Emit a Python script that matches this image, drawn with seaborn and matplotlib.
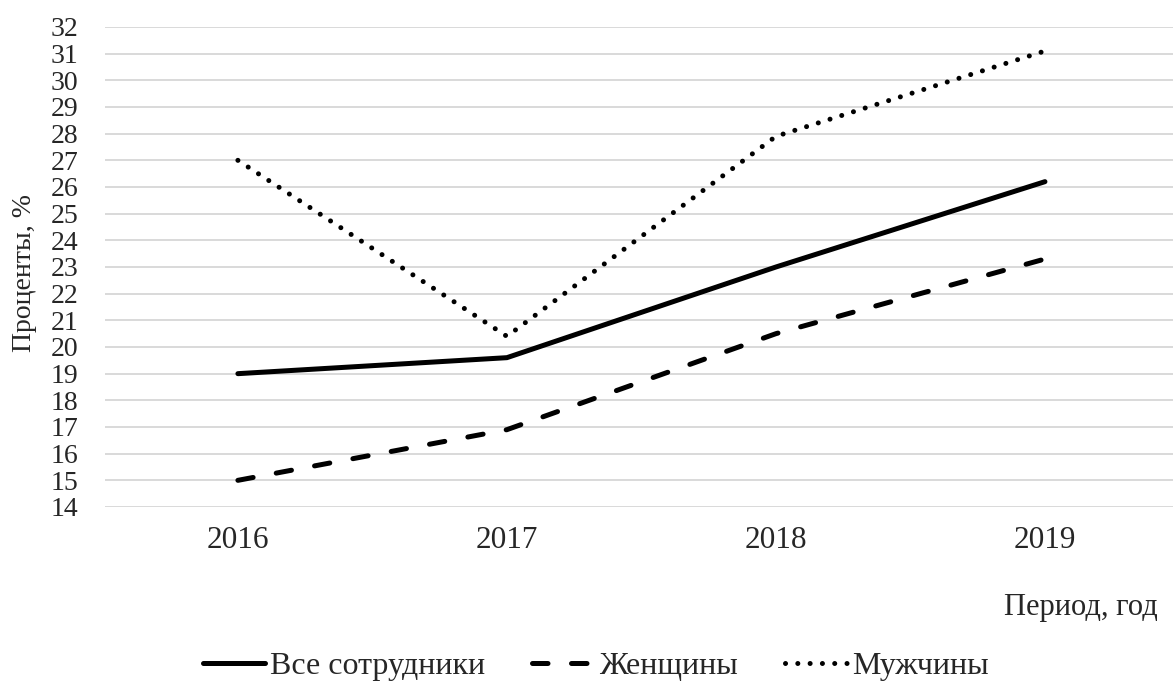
import pandas as pd
import matplotlib.pyplot as plt
import seaborn as sns

years = ["2016", "2017", "2018", "2019"]
vse = [19.0, 19.6, 23.0, 26.2]
zhen = [15.0, 16.9, 20.5, 23.3]
muzh = [27.0, 20.4, 27.9, 31.1]
names = ["Все сотрудники", "Женщины", "Мужчины"]

df = pd.DataFrame({
    "year": years * 3,
    "value": vse + zhen + muzh,
    "series": [names[0]] * 4 + [names[1]] * 4 + [names[2]] * 4,
})

sns.set_style("white")
plt.rcParams["font.family"] = ["Liberation Serif", "DejaVu Serif"]

fig = plt.figure(figsize=(11.73, 6.81), dpi=100)
ax = fig.add_axes([105 / 1173, 1 - 507 / 681, 1 - 105 / 1173, 480 / 681])

sns.lineplot(data=df, x="year", y="value", hue="series", style="series",
             palette=["black"] * 3, dashes=["", (3.1, 4.7), (0.01, 2.45)],
             linewidth=3.6, legend=False, ax=ax)
for ln in ax.lines:
    ln.set_dash_capstyle("round")
    ln.set_solid_capstyle("round")

ax.set_ylim(14, 32)
ax.set_yticks(range(14, 33))
ax.set_xlim(-0.494, 3.476)
ax.grid(axis="y", color="#d9d9d9", linewidth=1.4)
ax.set_axisbelow(True)
for s in ax.spines.values():
    s.set_visible(False)
ax.tick_params(axis="both", length=0)
ax.tick_params(axis="x", pad=14, labelsize=22.5)
ax.tick_params(axis="y", pad=19, labelsize=20)
ax.set_xlabel("")
ax.set_ylabel("")

fig.text(25 / 1173, 1 - 273 / 681, "Проценты, %", rotation=90,
         ha="center", va="center", fontsize=20)
fig.text(1158 / 1173, 1 - 615 / 681, "Период, год", ha="right",
         va="baseline", fontsize=22)

ax.legend(ax.lines, names, loc="center", bbox_to_anchor=(596 / 1173, 1 - 666 / 681),
          bbox_transform=fig.transFigure, ncol=3, frameon=False, borderpad=0,
          handlelength=1.95, handletextpad=0.15, columnspacing=1.47, fontsize=23)

plt.savefig("out.png", dpi=100)
